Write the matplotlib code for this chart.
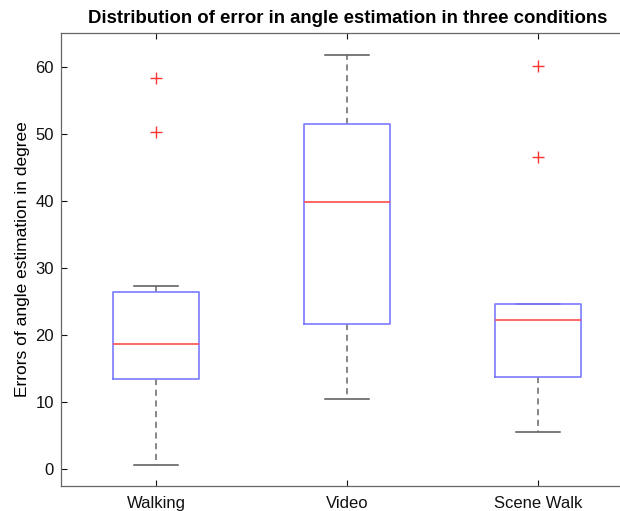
import matplotlib
matplotlib.use("Agg")
import matplotlib.pyplot as plt

plt.rcParams['font.family'] = ['Liberation Sans', 'DejaVu Sans']

conditions = ['Walking', 'Video', 'Scene Walk']
whislo = [0.6, 10.5, 5.6]
q1 = [13.4, 21.7, 13.8]
med = [18.6, 39.9, 22.3]
q3 = [26.4, 51.5, 24.6]
whishi = [27.3, 61.8, 24.6]
fliers = [[58.3, 50.2], [], [60.1, 46.6]]

stats = []
for i, name in enumerate(conditions):
    stats.append({'label': name, 'whislo': whislo[i], 'q1': q1[i], 'med': med[i],
                  'q3': q3[i], 'whishi': whishi[i], 'fliers': fliers[i]})

fig = plt.figure(figsize=(6.2, 5.11), dpi=100)
ax = fig.add_axes([0.098, 0.049, 0.924, 0.886])

ax.bxp(stats, positions=[1, 2, 3], widths=0.45, showfliers=True,
       boxprops=dict(color='#7a7aff', linewidth=1.2, zorder=3),
       medianprops=dict(color='#ff4d4d', linewidth=1.2, zorder=3),
       whiskerprops=dict(color='#666666', linestyle=(0, (4, 3)), linewidth=1.1,
                         zorder=2),
       capprops=dict(color='#555555', linewidth=1.1, zorder=1.5),
       capwidths=0.23,
       flierprops=dict(marker='+', markeredgecolor='#ff3333', markersize=8,
                       linestyle='none'))

ax.set_xlim(0.5, 3.5)
ax.set_ylim(-2.5, 65)
ax.set_yticks([0, 10, 20, 30, 40, 50, 60])
ax.tick_params(direction='in', labelsize=12, colors='#111111', length=4,
               top=True, right=True)
ax.tick_params(axis='x', pad=7)
ax.tick_params(axis='y', pad=5)
for s in ax.spines.values():
    s.set_color('#666666')
    s.set_linewidth(0.9)

ax.set_title('Distribution of error in angle estimation in three conditions',
             fontsize=13.4, fontweight='bold', pad=7)
ax.set_ylabel('Errors of angle estimation in degree', fontsize=12.5)

fig.savefig('out.png', dpi=100)
